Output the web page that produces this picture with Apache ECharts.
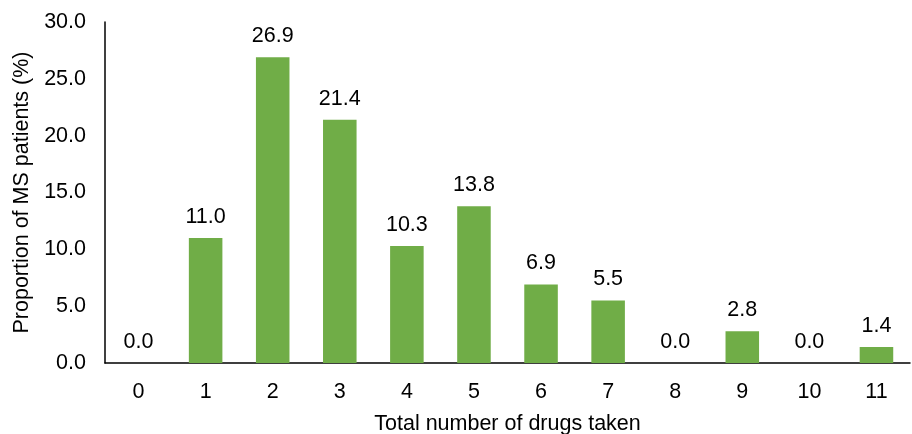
<!DOCTYPE html>
<html>
<head>
<meta charset="utf-8">
<script src="https://cdn.jsdelivr.net/npm/echarts@6/dist/echarts.min.js"></script>
<style>
    html, body { margin: 0; padding: 0; background: #fff; }
    #chart { width: 912px; height: 434px; }
</style>
</head>
<body>
<div id="chart"></div>
<script>
const categories = ['0', '1', '2', '3', '4', '5', '6', '7', '8', '9', '10', '11']
const proportions = [0.0, 11.0, 26.9, 21.4, 10.3, 13.8, 6.9, 5.5, 0.0, 2.8, 0.0, 1.4]
const yTicks = { min: 0, max: 30, interval: 5 }

const myChart = echarts.init(document.getElementById('chart'))
const font = 'Liberation Sans, Arial, sans-serif'
const fs = 21.5
myChart.setOption({
    animation: false,
    grid: {
        left: 105,
        right: 2,
        top: 22,
        bottom: 71,
        containLabel: false,
        outerBoundsMode: 'none'
    },
    xAxis: {
        type: 'category',
        data: categories,
        name: 'Total number of drugs taken',
        nameLocation: 'middle',
        nameGap: 50,
        nameTextStyle: { color: '#000', fontSize: fs, fontFamily: font },
        axisLine: { show: true, lineStyle: { color: '#000', width: 1.5 } },
        axisTick: { show: false },
        axisLabel: { color: '#000', fontSize: fs, fontFamily: font, margin: 18 }
    },
    yAxis: {
        type: 'value',
        min: yTicks.min,
        max: yTicks.max,
        interval: yTicks.interval,
        name: 'Proportion of MS patients (%)',
        nameLocation: 'middle',
        nameGap: 70,
        nameTextStyle: { color: '#000', fontSize: fs, fontFamily: font },
        splitLine: { show: false },
        axisLine: { show: true, lineStyle: { color: '#000', width: 1.5 } },
        axisTick: { show: false },
        axisLabel: {
            color: '#000',
            fontSize: fs,
            fontFamily: font,
            margin: 19,
            formatter: (v) => v.toFixed(1)
        }
    },
    series: [
        {
            type: 'bar',
            data: proportions,
            barWidth: '50%',
            itemStyle: { color: '#70AD47' },
            label: {
                show: true,
                position: 'top',
                distance: 10,
                color: '#000',
                fontSize: fs,
                fontFamily: font,
                formatter: (p) => p.value.toFixed(1)
            }
        }
    ]
})
</script>
</body>
</html>
